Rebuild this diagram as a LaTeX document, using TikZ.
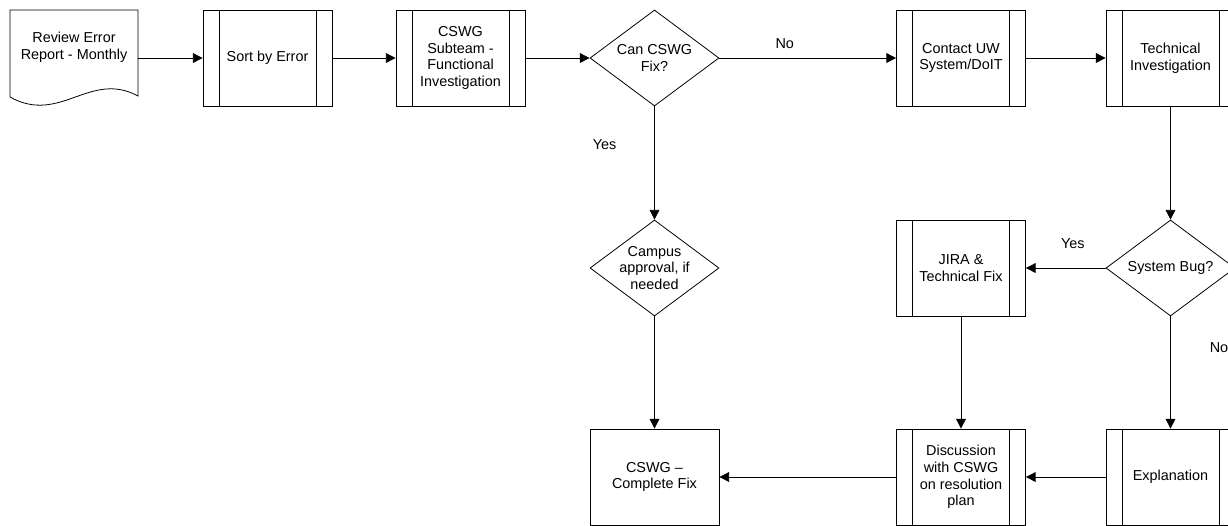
\documentclass[tikz,border=0pt]{standalone}
\usepackage{fontspec}
\setmainfont{Liberation Sans}
\usetikzlibrary{shapes.geometric,arrows.meta}

\tikzset{
    box/.style={rectangle,draw,minimum width=2.58cm,minimum height=1.92cm,inner sep=0pt,align=center},
    subproc/.style={box,path picture={
        \draw ([xshift=0.32cm]path picture bounding box.north west) -- ([xshift=0.32cm]path picture bounding box.south west);
        \draw ([xshift=-0.32cm]path picture bounding box.north east) -- ([xshift=-0.32cm]path picture bounding box.south east);}},
    decision/.style={diamond,draw,aspect=1.34,minimum width=2.58cm,minimum height=1.92cm,inner sep=-6pt,align=center},
}

\begin{document}
\begin{tikzpicture}[x=0.02cm,y=-0.02cm,line width=0.45pt,font=\fontsize{8.2}{9.5}\selectfont,
    >={Triangle[length=5.5pt,width=5.5pt]}]

    \useasboundingbox (0,0) rectangle (1228,525);

    % document shape
    \draw (10,10) -- (138,10) -- (138,96) .. controls (90,70) and (60,125) .. (10,97) -- cycle;

    \begin{scope}
        \node[align=center,minimum width=2.56cm] (doc) at (74,47) {Review Error\\Report - Monthly};
        \node[subproc] (sort) at (267.5,58) {Sort by Error};
        \node[subproc] (sub) at (460.5,58) {CSWG\\Subteam -\\Functional\\Investigation};
        \node[decision] (fix) at (654.5,58) {Can CSWG\\Fix?};
        \node[subproc] (uw) at (961,58) {Contact UW\\System/DoIT};
        \node[subproc] (tech) at (1170.5,58) {Technical\\Investigation};

        \node[decision] (campus) at (654.5,268) {Campus\\approval, if\\needed};
        \node[subproc] (jira) at (961,268) {JIRA \&\\Technical Fix};
        \node[decision] (bug) at (1170.5,268) {System Bug?};

        \node[box] (done) at (654.5,477) {CSWG --\\Complete Fix};
        \node[subproc] (disc) at (961,477) {Discussion\\with CSWG\\on resolution\\plan};
        \node[subproc] (expl) at (1170.5,477) {Explanation};
    \end{scope}

    \begin{scope}
        \path [->] (doc.east |- sort) edge (sort);
        \path [->] (sort) edge (sub);
        \path [->] (sub) edge (fix);
        \path [->] (fix) edge node[above=0.06cm,pos=0.37] {No} (uw);
        \path [->] (uw) edge (tech);

        \path [->] (fix) edge node[left=0.64cm,pos=0.34] {Yes} (campus);
        \path [->] (campus) edge (done);

        \path [->] (tech) edge (bug);
        \path [->] (bug) edge node[above=0.26cm,pos=0.41] {Yes} (jira);
        \path [->] (bug) edge node[right=0.66cm,pos=0.28] {No} (expl);

        \path [->] (jira) edge (disc);
        \path [->] (expl) edge (disc);
        \path [->] (disc) edge (done);
    \end{scope}

\end{tikzpicture}
\end{document}
